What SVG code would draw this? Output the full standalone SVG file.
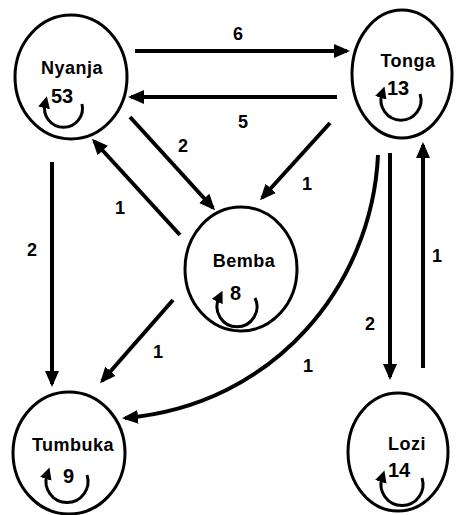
<svg xmlns="http://www.w3.org/2000/svg" width="457" height="515" viewBox="0 0 457 515">
<defs>
<style>
.node ellipse{fill:none;stroke:#000;stroke-width:3}
.name{font-family:"Liberation Sans",Arial,sans-serif;font-weight:bold;font-size:18px;text-anchor:middle;fill:#000;letter-spacing:0.5px}
.num{font-family:"Liberation Sans",Arial,sans-serif;font-weight:bold;font-size:20px;fill:#000}
.loop{fill:none;stroke:#000;stroke-width:3;marker-end:url(#sa)}
.edge{fill:none;stroke:#000;stroke-width:4;marker-end:url(#ah)}
.lbl{font-family:"Liberation Sans",Arial,sans-serif;font-weight:bold;font-size:18px;text-anchor:middle;fill:#000}
</style>
<marker id="ah" markerUnits="userSpaceOnUse" markerWidth="16" markerHeight="16" viewBox="0 0 16 16" refX="13" refY="8" orient="auto">
<path d="M0,1 L16,8 L0,15 z" fill="#000"/>
</marker>
<marker id="sa" markerUnits="userSpaceOnUse" markerWidth="12" markerHeight="12" viewBox="0 0 12 12" refX="4" refY="6" orient="auto">
<path d="M0,0 L12,6 L0,12 z" fill="#000"/>
</marker>
</defs>
<rect width="457" height="515" fill="#fff"/>
<g id="connectors">
<path class="edge" d="M135,51 L347,51"/>
<path class="edge" d="M337,97 L131,97"/>
<path class="edge" d="M130,117 L213,208"/>
<path class="edge" d="M330,123 L262,198"/>
<path class="edge" d="M180,235 L94,141"/>
<path class="edge" d="M52,162 L52,384"/>
<path class="edge" d="M173,300 L102,381"/>
<path class="edge" d="M378,155 C372,285 275,405 125,418"/>
<path class="edge" d="M390,153 L390,377"/>
<path class="edge" d="M423,368 L423,145"/>
<text class="lbl" x="238" y="40">6</text>
<text class="lbl" x="243" y="128">5</text>
<text class="lbl" x="183" y="152">2</text>
<text class="lbl" x="307" y="190">1</text>
<text class="lbl" x="120" y="214">1</text>
<text class="lbl" x="32" y="256">2</text>
<text class="lbl" x="158" y="358">1</text>
<text class="lbl" x="308" y="372">1</text>
<text class="lbl" x="370" y="330">2</text>
<text class="lbl" x="437" y="262">1</text>
</g>
<g id="nyanja" class="node">
<ellipse cx="71" cy="77" rx="56" ry="62"/>
<text class="name" x="72" y="74">Nyanja</text>
<text class="num" x="51" y="103">53</text>
<path class="loop" d="M82,104 A19,19 0 1 1 45,104"/>
</g>
<g id="tonga" class="node">
<ellipse cx="402" cy="74" rx="50" ry="64"/>
<text class="name" x="408" y="67">Tonga</text>
<text class="num" x="387" y="95">13</text>
<path class="loop" d="M420,94 A20,20 0 1 1 382,94"/>
</g>
<g id="bemba" class="node">
<ellipse cx="241" cy="269" rx="56" ry="62"/>
<text class="name" x="244" y="267">Bemba</text>
<text class="num" x="230" y="300">8</text>
<path class="loop" d="M255,298 A20,20 0 1 1 219,298"/>
</g>
<g id="tumbuka" class="node">
<ellipse cx="69" cy="453" rx="56" ry="61"/>
<text class="name" x="73" y="451">Tumbuka</text>
<text class="num" x="63" y="483">9</text>
<path class="loop" d="M87,475 A21,21 0 1 1 47,475"/>
</g>
<g id="lozi" class="node">
<ellipse cx="398" cy="452" rx="50" ry="59"/>
<text class="name" x="407" y="450">Lozi</text>
<text class="num" x="388" y="477">14</text>
<path class="loop" d="M422,478 A21,21 0 1 1 382,478"/>
</g>
</svg>
